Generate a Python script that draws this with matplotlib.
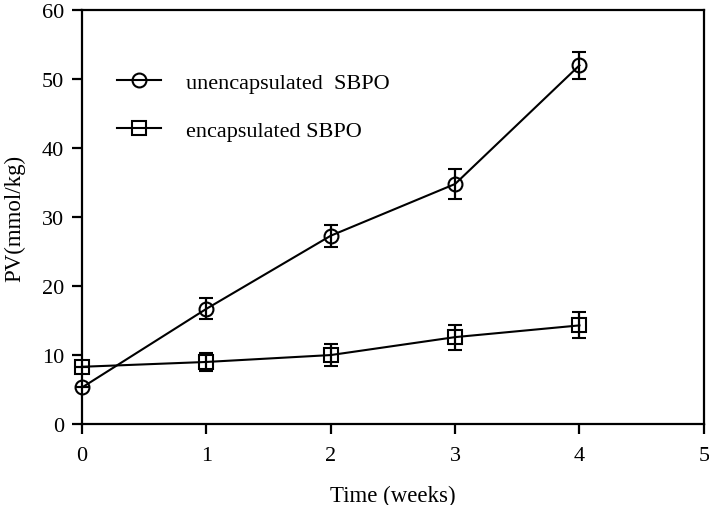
import matplotlib
matplotlib.use("Agg")
import matplotlib.pyplot as plt
from matplotlib.lines import Line2D

plt.rcParams['font.family'] = ['Liberation Serif', 'DejaVu Serif']

weeks = [0, 1, 2, 3, 4]
unenc = [5.3, 16.7, 27.3, 34.8, 52.0]
unenc_err = [0.0, 1.5, 1.6, 2.2, 2.0]
enc = [8.3, 9.0, 10.0, 12.6, 14.3]
enc_err = [0.0, 1.3, 1.6, 1.8, 1.9]
labels = ['unencapsulated  SBPO', 'encapsulated SBPO']

fig = plt.figure(figsize=(7.09, 5.06), dpi=100)
ax = fig.add_axes([0.1157, 0.160, 0.877, 0.818])

style = dict(color='black', markerfacecolor='none', markeredgewidth=1.5, linewidth=1.5,
             capsize=5, elinewidth=1.6, capthick=1.6, clip_on=False)
ax.errorbar(weeks, unenc, yerr=unenc_err, marker='o', markersize=10, **style)
ax.errorbar(weeks, enc, yerr=enc_err, marker='s', markersize=9.5, **style)

ax.set_xlim(0, 5)
ax.set_ylim(0, 60)
ax.set_xticks([0, 1, 2, 3, 4, 5])
ax.set_yticks([0, 10, 20, 30, 40, 50, 60])
ax.tick_params(direction='out', length=7, width=1.6, labelsize=16)
ax.tick_params(axis='x', pad=9)
ax.tick_params(axis='y', pad=6)
for s in ax.spines.values():
    s.set_linewidth(1.6)
ax.set_xlabel('Time (weeks)', fontsize=16.5, labelpad=14)
ax.set_ylabel('PV(mmol/kg)', fontsize=16.5, labelpad=12)

handles = [Line2D([], [], color='black', marker='o', markersize=10, markerfacecolor='none',
                  markeredgewidth=1.5, linewidth=1.5),
           Line2D([], [], color='black', marker='s', markersize=9.5, markerfacecolor='none',
                  markeredgewidth=1.5, linewidth=1.5)]
ax.legend(handles, labels, loc='upper left', bbox_to_anchor=(0.056, 0.85), frameon=False,
          borderaxespad=0, borderpad=0,
          fontsize=16, handlelength=2.0, labelspacing=1.25, handletextpad=1.1)

fig.savefig('out.png', dpi=100)
